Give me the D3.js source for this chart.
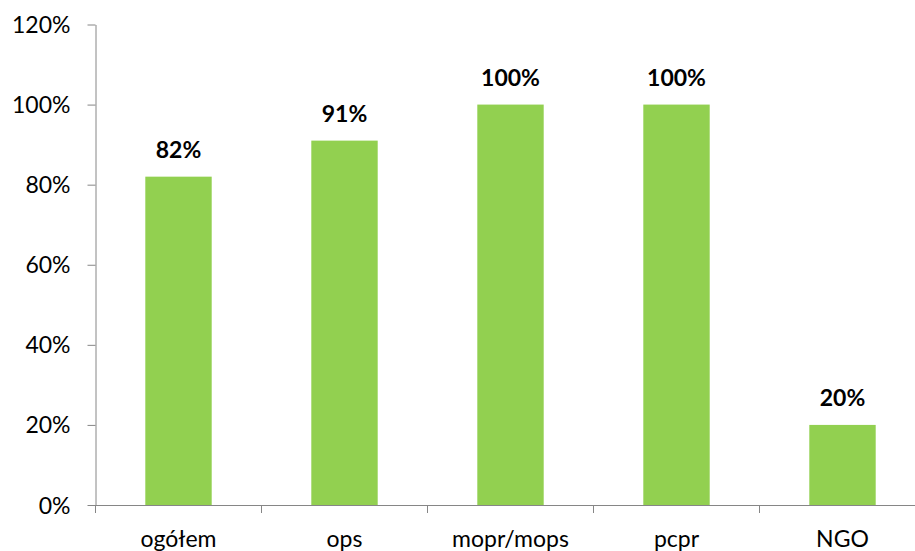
<!DOCTYPE html>
<html>
<head>
<meta charset="utf-8">
<script src="https://cdn.jsdelivr.net/npm/d3@7"></script>
<style>
  html, body { margin: 0; padding: 0; background: #fff; }
  svg { display: block; font-family: Lato, "Open Sans", sans-serif; }
</style>
</head>
<body>
<div id="chart"></div>
<script>
const categories = ['ogółem', 'ops', 'mopr/mops', 'pcpr', 'NGO'];
const values = [0.82, 0.91, 1.00, 1.00, 0.20];
const yTicks = [0, 0.2, 0.4, 0.6, 0.8, 1.0, 1.2];

const width = 915, height = 551;
const axisColor = '#868686';
const barColor = '#92D050';

const svg = d3.select('#chart').append('svg')
  .attr('width', width)
  .attr('height', height);

// plot area runs past the right edge of the window, like the original
const x = d3.scaleBand().domain(categories).range([95.5, 925.5]).padding(0);
const y = d3.scaleLinear().domain([0, 1.2]).range([505, 24.5]);

const fmt = d3.format('.0%');

// y axis
const yAxis = svg.append('g')
  .attr('transform', `translate(${x.range()[0]},0)`)
  .call(d3.axisLeft(y).tickValues(yTicks).tickFormat(fmt).tickSizeInner(8).tickSizeOuter(0).tickPadding(17));
yAxis.select('.domain').attr('stroke', axisColor);
yAxis.selectAll('.tick line').attr('stroke', axisColor);
yAxis.selectAll('.tick text')
  .attr('fill', '#000')
  .attr('font-size', 23)
  .attr('font-family', 'Lato, sans-serif')
  .attr('dy', '0.35em');

// bars
const barW = x.bandwidth() * 0.4;
svg.append('g').selectAll('rect')
  .data(categories)
  .join('rect')
  .attr('x', (c) => x(c) + (x.bandwidth() - barW) / 2)
  .attr('y', (c, i) => y(values[i]))
  .attr('width', barW)
  .attr('height', (c, i) => y(0) - y(values[i]))
  .attr('fill', barColor);

// value labels
svg.append('g').selectAll('text')
  .data(categories)
  .join('text')
  .attr('x', (c) => x(c) + x.bandwidth() / 2)
  .attr('y', (c, i) => y(values[i]) - 18.5)
  .attr('text-anchor', 'middle')
  .attr('font-size', 23)
  .attr('font-weight', 'bold')
  .attr('fill', '#000')
  .text((c, i) => fmt(values[i]));

// x axis: labels centred, ticks on the band boundaries
const xAxis = svg.append('g')
  .attr('transform', `translate(0,${y(0)})`)
  .call(d3.axisBottom(x).tickSize(0).tickPadding(0));
xAxis.select('.domain').attr('stroke', axisColor);
xAxis.selectAll('.tick text')
  .attr('fill', '#000')
  .attr('font-size', 23)
  .attr('font-family', 'Lato, sans-serif')
  .attr('dy', 0)
  .attr('y', 42);

const bounds = categories.map((c) => x(c)).concat([x.range()[1]]);
xAxis.selectAll('line.band-tick')
  .data(bounds)
  .join('line')
  .attr('class', 'band-tick')
  .attr('x1', (d) => d)
  .attr('x2', (d) => d)
  .attr('y1', 0)
  .attr('y2', 8)
  .attr('stroke', axisColor);
</script>
</body>
</html>
